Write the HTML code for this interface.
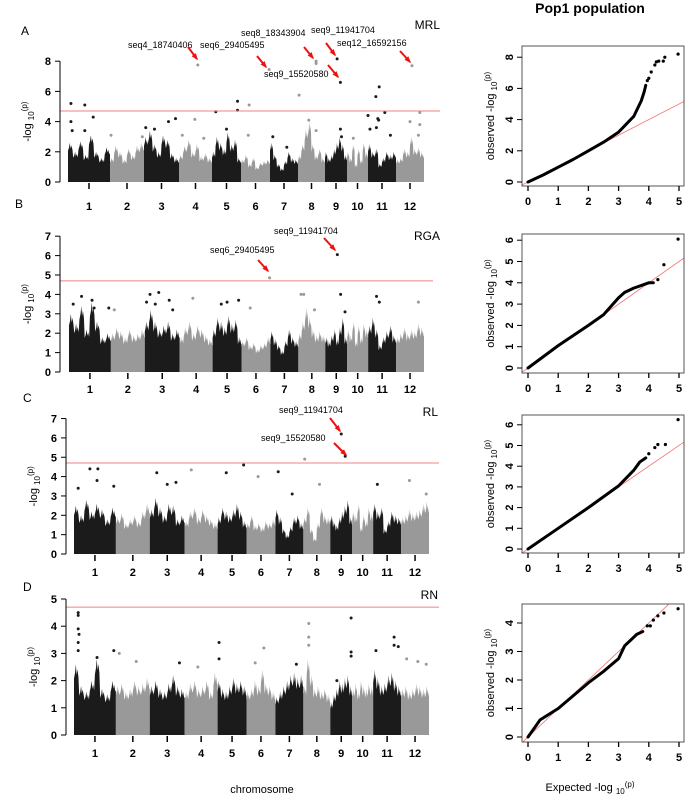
<!DOCTYPE html>
<html><head><meta charset="utf-8">
<style>
html,body{margin:0;padding:0;background:#fff;}
svg{display:block;font-family:"Liberation Sans",Arial,sans-serif;}
</style></head>
<body>
<svg id="fig" width="685" height="796" viewBox="0 0 685 796" xmlns="http://www.w3.org/2000/svg">
<text x="590" y="13" font-size="14" font-weight="bold" text-anchor="middle">Pop1  population</text>
<text x="262" y="793" font-size="11" text-anchor="middle">chromosome</text>
<text x="590" y="791" font-size="11" text-anchor="middle">Expected -log <tspan font-size="8" dy="3">10</tspan><tspan font-size="8" dy="-7">(p)</tspan></text>
</svg>
<script>
// ---------- DATA ----------
const chromLabels = ["1","2","3","4","5","6","7","8","9","10","11","12"];
const chromLengths = [42,34,35,33,29,29,28,27,22,21,28,28];

const bandA = [[2.6,2.0,2.7,1.8,3.1,2.0,1.6,2.3],[1.6,2.4,2.0,1.5,2.2,1.8,2.4,2.6],[3.0,3.4,2.5,2.0,3.1,2.8,1.9,1.6],[1.8,2.4,2.8,2.0,2.5,1.7,1.9,1.6],[2.0,3.0,2.6,2.2,3.3,2.5,2.8,1.6],[1.5,1.8,1.2,1.6,1.0,1.3,1.4,1.5],[2.6,1.8,1.2,0.9,1.4,2.0,1.6,1.5],[1.8,2.5,3.5,4.0,2.5,1.8,2.2,1.6],[2.0,1.6,1.8,2.2,2.6,3.0,2.5,1.8],[2.0,1.6,2.5,1.2,2.2,1.5,2.6,2.0],[2.5,2.0,2.2,1.2,1.6,2.0,1.8,2.0],[1.5,1.6,2.2,2.0,3.0,2.2,2.3,2.0]];
const peaksA = [[1,0.07,5.2],[1,0.4,5.1],[1,0.6,4.3],[1,0.07,4.0],[1,0.1,3.4],[1,0.4,3.4],[2,0.03,3.1],[2,0.95,3.0],[3,0.05,3.6],[3,0.3,3.5],[3,0.7,4.0],[3,0.9,4.2],[4,0.1,3.1],[4,0.48,4.15],[4,0.57,7.75],[4,0.75,2.9],[5,0.13,4.65],[5,0.88,5.35],[5,0.88,4.75],[5,0.5,3.5],[6,0.28,5.1],[6,0.25,3.1],[6,0.97,7.45],[7,0.1,3.0],[7,0.6,2.3],[8,0.04,5.75],[8,0.4,4.1],[8,0.67,7.85],[8,0.67,8.0],[8,0.67,3.4],[9,0.55,8.15],[9,0.7,6.6],[9,0.7,3.5],[9,0.75,3.0],[10,0.3,2.9],[11,0.0,4.4],[11,0.07,3.5],[11,0.28,5.65],[11,0.4,6.3],[11,0.35,4.2],[11,0.38,4.1],[11,0.3,3.6],[11,0.6,4.6],[11,0.8,3.1],[12,0.57,7.7],[12,0.5,4.0],[12,0.85,4.6],[12,0.85,3.8],[12,0.8,3.1]];

const bandB = [[3.0,2.5,3.4,2.2,3.6,2.6,1.8,2.0],[2.0,2.3,2.1,1.8,2.2,1.9,2.0,2.2],[2.6,3.2,2.6,2.2,2.4,2.6,2.0,2.2],[1.8,2.3,2.6,2.0,2.4,2.2,1.9,1.7],[2.2,2.8,2.6,2.3,2.9,2.5,2.7,1.8],[1.6,1.8,1.4,1.5,1.2,1.4,1.5,1.8],[2.1,1.7,1.4,1.1,1.6,2.2,1.8,1.6],[2.0,2.6,3.3,2.8,2.2,1.9,2.1,1.9],[1.8,1.6,1.9,2.2,1.7,2.3,2.8,1.8],[2.2,1.9,2.6,1.6,2.4,1.8,2.5,2.2],[2.4,2.8,2.2,1.4,1.8,2.1,2.4,1.9],[1.8,2.0,2.3,2.0,2.2,2.1,2.5,2.3]];
const peaksB = [[1,0.1,3.5],[1,0.3,3.9],[1,0.55,3.7],[1,0.6,3.3],[1,0.95,3.3],[2,0.1,3.2],[3,0.05,3.6],[3,0.15,4.0],[3,0.3,3.5],[3,0.4,4.1],[3,0.7,3.7],[3,0.8,3.2],[4,0.4,3.8],[5,0.3,3.5],[5,0.5,3.6],[5,0.9,3.7],[6,0.3,3.3],[8,0.1,4.0],[8,0.2,4.0],[8,0.6,3.2],[9,0.7,4.0],[9,0.9,3.1],[11,0.3,3.9],[11,0.4,3.6],[12,0.8,3.6],[6,0.97,4.85],[9,0.55,6.05]];

const bandC = [[2.5,2.0,2.8,2.2,2.6,2.3,1.8,2.4],[1.9,2.1,1.6,1.8,2.0,1.7,2.2,2.6],[2.3,2.9,2.4,2.0,2.6,2.5,1.8,2.0],[1.7,2.2,2.4,1.9,2.3,2.0,1.8,1.6],[1.9,2.4,2.2,2.0,2.3,2.6,2.2,1.7],[1.6,2.0,1.5,1.6,1.4,1.7,1.6,1.8],[2.3,1.9,1.3,1.0,1.4,1.9,2.0,1.6],[1.9,2.4,1.3,0.8,1.6,2.4,2.0,1.9],[2.0,1.7,1.5,1.9,2.2,2.5,2.8,1.9],[2.2,2.0,2.6,1.4,2.0,1.7,2.4,2.1],[2.6,2.2,2.4,1.3,1.7,2.2,2.0,1.9],[1.9,2.0,2.3,2.1,2.2,2.3,2.6,2.7]];
const peaksC = [[9,0.5,6.2],[9,0.68,5.05],[8,0.05,4.9],[5,0.9,4.6],[1,0.38,4.4],[1,0.57,4.4],[1,0.55,3.8],[1,0.1,3.4],[1,0.95,3.5],[3,0.2,4.2],[3,0.5,3.6],[3,0.75,3.7],[4,0.2,4.35],[5,0.3,4.2],[6,0.4,4.0],[7,0.1,4.25],[7,0.6,3.1],[8,0.6,3.6],[11,0.15,3.6],[12,0.3,3.8],[12,0.9,3.1]];

const bandD = [[2.6,1.8,1.6,2.0,2.8,1.7,1.5,2.0],[1.8,1.9,1.6,1.7,2.0,1.8,1.9,2.1],[1.8,2.0,1.7,1.6,1.9,2.2,1.8,1.7],[1.6,1.9,2.0,1.7,1.8,2.0,1.6,2.3],[2.0,1.7,1.6,1.8,2.1,1.9,2.0,1.8],[1.6,1.7,2.0,1.8,2.4,1.9,1.8,1.6],[1.4,1.6,1.8,2.0,2.2,2.3,2.1,2.2],[1.8,2.8,2.2,1.7,1.8,1.6,1.7,1.5],[1.2,1.5,1.7,2.0,1.9,2.1,2.2,1.8],[1.7,1.9,1.6,2.0,1.8,1.7,1.9,1.8],[2.4,2.1,1.8,1.9,2.2,2.3,2.0,1.8],[1.7,1.8,1.6,1.7,1.9,1.8,1.7,1.8]];
const peaksD = [[1,0.1,4.5],[1,0.1,4.4],[1,0.1,3.9],[1,0.12,3.7],[1,0.1,3.4],[1,0.1,3.1],[1,0.55,2.85],[1,0.95,3.1],[2,0.1,3.0],[2,0.6,2.7],[3,0.85,2.65],[4,0.4,2.5],[5,0.05,3.4],[5,0.05,2.8],[6,0.6,3.2],[6,0.3,2.65],[7,0.75,2.6],[8,0.2,4.1],[8,0.2,3.6],[8,0.2,3.3],[9,0.3,2.0],[9,0.95,4.3],[9,0.95,3.05],[9,0.95,2.9],[11,0.1,3.1],[11,0.75,3.6],[11,0.75,3.3],[11,0.9,3.25],[12,0.2,2.8],[12,0.6,2.7],[12,0.9,2.6]];

const qqCurve1 = [[0,0],[0.5,0.45],[1,0.95],[1.5,1.45],[2,2.0],[2.5,2.55],[3,3.2],[3.3,3.8],[3.5,4.2],[3.6,4.6],[3.75,5.2],[3.85,5.8],[3.9,6.2]];
const qqTail1 = [[3.95,6.5],[4.0,6.65],[4.08,7.05],[4.2,7.5],[4.25,7.7],[4.33,7.75],[4.48,7.75],[4.53,8.0],[4.97,8.2]];
const qqCurve2 = [[0,0],[1,1.05],[2,2.0],[2.5,2.5],[3,3.3],[3.2,3.55],[3.5,3.75],[3.8,3.9],[4,4.0],[4.15,4.0]];
const qqTail2 = [[4.3,4.15],[4.5,4.85],[4.97,6.05]];
const qqCurve3 = [[0,0],[1,1.0],[2,2.0],[3,3.05],[3.3,3.5],[3.5,3.8],[3.7,4.2],[3.9,4.4]];
const qqTail3 = [[4.0,4.6],[4.2,4.9],[4.3,5.05],[4.55,5.05],[4.97,6.25]];
const qqCurve4 = [[0,0],[0.2,0.3],[0.4,0.6],[1,1.0],[2,1.9],[2.5,2.3],[3,2.75],[3.2,3.2],[3.4,3.4],[3.6,3.6],[3.8,3.7]];
const qqTail4 = [[3.95,3.9],[4.05,3.9],[4.15,4.1],[4.3,4.25],[4.5,4.35],[4.97,4.5]];
const qqXTicks = [0,1,2,3,4,5];

// ---------- DRAW ----------
const NS="http://www.w3.org/2000/svg";
const svg=document.getElementById('fig');
function mk(tag,attrs,parent){const e=document.createElementNS(NS,tag);for(const k in attrs)e.setAttribute(k,attrs[k]);(parent||svg).appendChild(e);return e;}

function manhattan(cfg){
  const g=mk('g',{});
  
  
  const total=chromLengths.reduce((a,b)=>a+b,0);
  const xs=[];let acc=0;
  for(const L of chromLengths){xs.push(acc);acc+=L;}
  const X=(c,f)=>cfg.x0+(xs[c-1]+f*chromLengths[c-1])/total*(cfg.x1-cfg.x0);
  const Y=v=>cfg.y0-v*cfg.sy;
  cfg.band.forEach((tops,i)=>{
    const c=i+1;const col=(c%2)?'#1b1b1b':'#999999';
    const n=tops.length, w=1/n;
    let pts=[[X(c,0),Y(0)]];
    tops.forEach((t,j)=>{
      const f0=j*w;
      pts.push([X(c,f0),Y(t*0.8)]);
      pts.push([X(c,f0+0.2*w),Y(t*0.88)]);
      pts.push([X(c,f0+0.35*w),Y(t)]);
      pts.push([X(c,f0+0.5*w),Y(t*0.85)]);
      pts.push([X(c,f0+0.65*w),Y(t*0.93)]);
      pts.push([X(c,f0+0.85*w),Y(t*0.82)]);
    });
    pts.push([X(c,1),Y(tops[n-1]*0.8)]);pts.push([X(c,1),Y(0)]);
    const p=mk('polygon',{points:pts.map(p=>p.join(',')).join(' '),fill:col},g);
    
    
  });
  cfg.peaks.forEach(pk=>{
    const col=(pk[0]%2)?'#1b1b1b':'#999999';
    const d=mk('circle',{cx:X(pk[0],pk[1]),cy:Y(pk[2]),r:1.5,fill:col},g);
    
    
  });
  const th=mk('line',{x1:cfg.ax,x2:cfg.thx2,y1:Y(4.7),y2:Y(4.7),stroke:'#f08080','stroke-width':1},g);
  
  
  const ya=mk('line',{x1:cfg.ax,x2:cfg.ax,y1:Y(0),y2:Y(cfg.ymax),stroke:'#000'},g);
  
  
  for(let v=0;v<=cfg.ymax;v+=cfg.ystep){
    mk('line',{x1:cfg.ax-5,x2:cfg.ax,y1:Y(v),y2:Y(v),stroke:'#000'},g);
    const t=mk('text',{x:cfg.ax-9,y:Y(v)+4,'font-size':11,'font-weight':'bold','text-anchor':'end'},g);
    t.textContent=v;
    
    
  }
  chromLabels.forEach((lab,i)=>{
    const x=X(i+1,0.5);
    mk('line',{x1:x,x2:x,y1:Y(0)+1,y2:Y(0)+7,stroke:'#000','stroke-width':1.5},g);
    const t=mk('text',{x:x,y:cfg.ly,'font-size':11,'font-weight':'bold','text-anchor':'middle'},g);
    t.textContent=lab;
    
    
  });
  const yc=(Y(0)+Y(cfg.ymax))/2;
  const yl=mk('text',{x:0,y:0,'font-size':11,'text-anchor':'middle',transform:`translate(${cfg.ax-29},${yc}) rotate(-90)`},g);
  yl.innerHTML='-log <tspan font-size="8" dy="3">10</tspan><tspan font-size="8" dy="-7">(p)</tspan>';
  
  
  const pl=mk('text',{x:cfg.letter[1],y:cfg.letter[2],'font-size':12},g);pl.textContent=cfg.letter[0];
  
  
  const tr=mk('text',{x:cfg.trait[1],y:cfg.trait[2],'font-size':12,'text-anchor':'end'},g);tr.textContent=cfg.trait[0];
  
  
  (cfg.ann||[]).forEach(a=>{
    const t=mk('text',{x:a[1],y:a[2],'font-size':9},g);t.textContent=a[0];
    
    
    const [x1,y1,x2,y2]=a[3];
    const ar=mk('line',{x1,y1,x2,y2,stroke:'#ee1111','stroke-width':2},g);
    
    
    const ang=Math.atan2(y2-y1,x2-x1),h=6;
    const pts=[[x2+1.5*Math.cos(ang),y2+1.5*Math.sin(ang)],[x2-h*Math.cos(ang-0.45),y2-h*Math.sin(ang-0.45)],[x2-h*Math.cos(ang+0.45),y2-h*Math.sin(ang+0.45)]];
    mk('polygon',{points:pts.map(p=>p.join(',')).join(' '),fill:'#ee1111'},g);
  });
}

manhattan({name:'manhattan-mrl',band:bandA,peaks:peaksA,x0:68,x1:424,y0:182,sy:15.1,ax:60,ymax:8,ystep:2,ly:210,thx2:440,
  letter:['A',21,35],trait:['MRL',440,29],
  ann:[['seq4_18740406',128,48,[188,47,197,59]],['seq6_29405495',200,48,[257,56,266,67]],['seq8_18343904',241,36,[304,47,313,58]],['seq9_11941704',311,33,[326,43,335,55]],['seq12_16592156',337,46,[400,51,410,62]],['seq9_15520580',264,77,[328,65,338,77]]]});
manhattan({name:'manhattan-rga',band:bandB,peaks:peaksB,x0:69,x1:424,y0:372,sy:19.4,ax:60,ymax:7,ystep:1,ly:393,thx2:433,
  letter:['B',15,208],trait:['RGA',440,240],
  ann:[['seq9_11941704',274,234,[324,238,335,250]],['seq6_29405495',210,253,[258,260,268,271]]]});
manhattan({name:'manhattan-rl',band:bandC,peaks:peaksC,x0:74,x1:429,y0:554,sy:19.35,ax:66,ymax:7,ystep:1,ly:576,thx2:439,
  letter:['C',23,402],trait:['RL',438,416],
  ann:[['seq9_11941704',279,413,[330,418,340,431]],['seq9_15520580',261,441,[334,443,346,455]]]});
manhattan({name:'manhattan-rn',band:bandD,peaks:peaksD,x0:74,x1:429,y0:735,sy:27.2,ax:66,ymax:5,ystep:1,ly:757,thx2:439,
  letter:['D',23,591],trait:['RN',438,599],ann:[]});

function qq(cfg){
  const g=mk('g',{});
  
  
  const X=v=>528+v*30.2, Y=v=>cfg.y0-v*cfg.sy;
  const cp=mk('clipPath',{id:'cp'+cfg.name},svg);
  mk('rect',{x:522,y:cfg.top,width:162,height:cfg.bot-cfg.top},cp);
  const ref=mk('line',{x1:X(-0.3),y1:Y(-0.3),x2:X(6),y2:Y(6),stroke:'#f07070','stroke-width':0.8,'clip-path':`url(#cp${cfg.name})`},g);
  
  
  const c=mk('polyline',{points:cfg.curve.map(p=>X(p[0])+','+Y(p[1])).join(' '),fill:'none',stroke:'#000','stroke-width':3,'stroke-linejoin':'round','stroke-linecap':'round'},g);
  
  
  cfg.tail.forEach(p=>{
    const d=mk('circle',{cx:X(p[0]),cy:Y(p[1]),r:1.6,fill:'#000'},g);
    
    
  });
  const box=mk('rect',{x:522,y:cfg.top,width:162,height:cfg.bot-cfg.top,fill:'none',stroke:'#555','stroke-width':1},g);
  
  
  for(let v=0;v<=cfg.ymax;v+=cfg.ystep){
    mk('line',{x1:517,x2:522,y1:Y(v),y2:Y(v),stroke:'#000'},g);
    const t=mk('text',{x:0,y:0,'font-size':11,'font-weight':'bold','text-anchor':'middle',transform:`translate(${513},${Y(v)}) rotate(-90)`},g);
    t.textContent=v;
    
    
  }
  qqXTicks.forEach(v=>{
    mk('line',{x1:X(v),x2:X(v),y1:cfg.bot,y2:cfg.bot+5,stroke:'#000','stroke-width':1.3},g);
    const t=mk('text',{x:X(v),y:cfg.bot+19,'font-size':11,'font-weight':'bold','text-anchor':'middle'},g);
    t.textContent=v;
    
    
  });
  const yl=mk('text',{x:0,y:0,'font-size':11,'text-anchor':'middle',transform:`translate(${494},${(cfg.top+cfg.bot)/2}) rotate(-90)`},g);
  yl.innerHTML='observed -log <tspan font-size="8" dy="3">10</tspan><tspan font-size="8" dy="-7">(p)</tspan>';
  
  
}
qq({name:'qq-mrl',curve:qqCurve1,tail:qqTail1,y0:182,sy:15.6,top:46,bot:186,ymax:8,ystep:2});
qq({name:'qq-rga',curve:qqCurve2,tail:qqTail2,y0:368,sy:21.3,top:234,bot:373,ymax:6,ystep:1});
qq({name:'qq-rl',curve:qqCurve3,tail:qqTail3,y0:549,sy:20.7,top:415,bot:553,ymax:6,ystep:1});
qq({name:'qq-rn',curve:qqCurve4,tail:qqTail4,y0:737,sy:28.5,top:604,bot:742,ymax:4,ystep:1});
</script>
</body></html>
